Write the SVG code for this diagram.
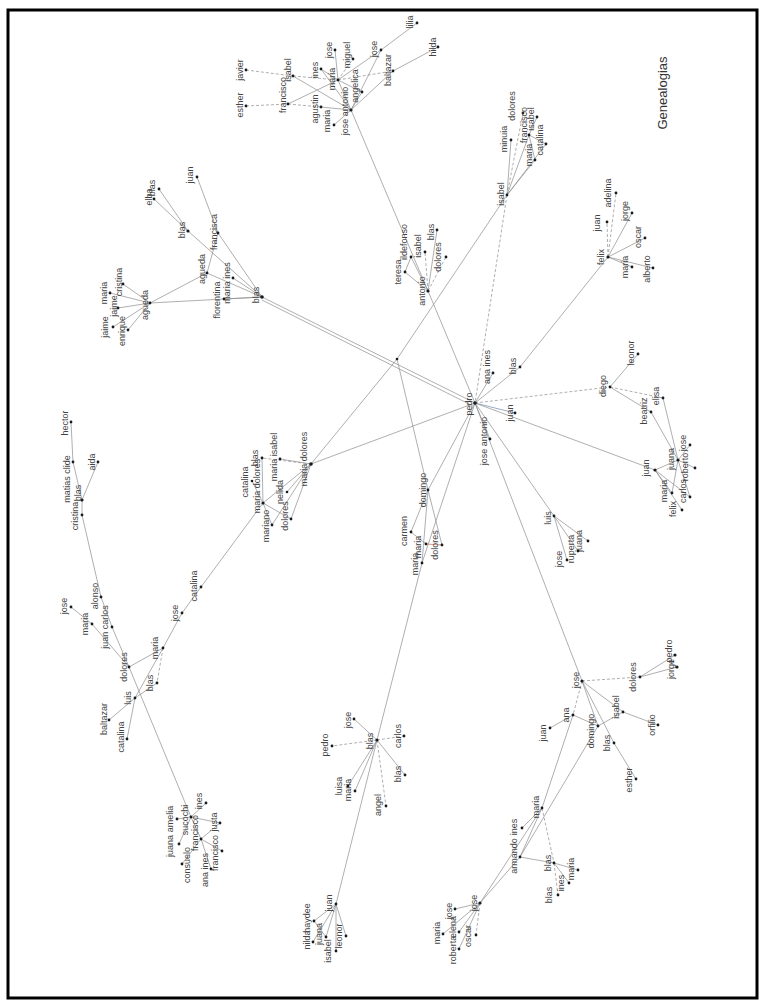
<svg xmlns="http://www.w3.org/2000/svg" width="765" height="1001" viewBox="0 0 765 1001">
<style>
.e{stroke:#8c8c8c;stroke-width:0.7;fill:none}
.d{stroke-dasharray:3 2}
.b{stroke:#6f86b0}
.r{stroke:#c07060}
circle{fill:#1a1a1a}
text{font-family:"Liberation Sans",Arial,sans-serif;font-size:9px;fill:#444;text-anchor:middle}
.title{font-size:13px;fill:#333}
</style>
<rect x="0" y="0" width="765" height="1001" fill="#fff"/>
<rect x="8" y="10" width="749" height="988" fill="none" stroke="#000" stroke-width="3"/>
<g id="connectors">
<line class="e d" x1="246" y1="70" x2="293" y2="76"/>
<line class="e d" x1="246" y1="106" x2="288" y2="104"/>
<line class="e" x1="293" y1="76" x2="351" y2="110"/>
<line class="e d" x1="293" y1="76" x2="338" y2="80"/>
<line class="e" x1="288" y1="104" x2="338" y2="80"/>
<line class="e d" x1="288" y1="104" x2="321" y2="107"/>
<line class="e" x1="321" y1="107" x2="351" y2="110"/>
<line class="e" x1="338" y1="80" x2="381" y2="50"/>
<line class="e" x1="338" y1="80" x2="351" y2="110"/>
<line class="e d" x1="338" y1="80" x2="353" y2="59"/>
<line class="e" x1="338" y1="80" x2="335" y2="50"/>
<line class="e" x1="338" y1="80" x2="321" y2="69"/>
<line class="e" x1="338" y1="80" x2="362" y2="92"/>
<line class="e d" x1="338" y1="80" x2="393" y2="71"/>
<line class="e" x1="351" y1="110" x2="393" y2="71"/>
<line class="e" x1="351" y1="110" x2="381" y2="50"/>
<line class="e" x1="351" y1="110" x2="362" y2="92"/>
<line class="e" x1="351" y1="110" x2="334" y2="125"/>
<line class="e" x1="351" y1="110" x2="321" y2="69"/>
<line class="e" x1="381" y1="50" x2="417" y2="23"/>
<line class="e" x1="393" y1="71" x2="438" y2="47"/>
<line class="e" x1="351" y1="110" x2="428" y2="291"/>
<line class="e" x1="428" y1="291" x2="405" y2="272"/>
<line class="e" x1="428" y1="291" x2="411" y2="257"/>
<line class="e d" x1="428" y1="291" x2="425" y2="252"/>
<line class="e" x1="428" y1="291" x2="437" y2="230"/>
<line class="e d" x1="428" y1="291" x2="446" y2="257"/>
<line class="e" x1="405" y1="272" x2="411" y2="257"/>
<line class="e" x1="428" y1="291" x2="475" y2="403"/>
<line class="e" x1="507" y1="195" x2="397" y2="359"/>
<line class="e" x1="397" y1="359" x2="311" y2="464"/>
<line class="e" x1="397" y1="359" x2="428" y2="490"/>
<line class="e" x1="507" y1="195" x2="511" y2="140"/>
<line class="e d" x1="507" y1="195" x2="523" y2="113"/>
<line class="e" x1="507" y1="195" x2="529" y2="135"/>
<line class="e" x1="507" y1="195" x2="535" y2="160"/>
<line class="e" x1="507" y1="195" x2="546" y2="144"/>
<line class="e" x1="529" y1="135" x2="537" y2="117"/>
<line class="e" x1="529" y1="135" x2="546" y2="144"/>
<line class="e" x1="529" y1="135" x2="535" y2="160"/>
<line class="e d" x1="507" y1="195" x2="475" y2="403"/>
<line class="e d" x1="608" y1="257" x2="607" y2="222"/>
<line class="e d" x1="608" y1="257" x2="616" y2="193"/>
<line class="e" x1="608" y1="257" x2="632" y2="213"/>
<line class="e" x1="608" y1="257" x2="645" y2="238"/>
<line class="e" x1="608" y1="257" x2="632" y2="267"/>
<line class="e" x1="608" y1="257" x2="653" y2="268"/>
<line class="e" x1="608" y1="257" x2="520" y2="367"/>
<line class="e" x1="475" y1="403" x2="520" y2="367"/>
<line class="e" x1="475" y1="403" x2="493" y2="373"/>
<line class="e b" x1="475" y1="403" x2="515" y2="413"/>
<line class="e" x1="475" y1="403" x2="490" y2="439"/>
<line class="e d" x1="475" y1="403" x2="610" y2="387"/>
<line class="e" x1="475" y1="403" x2="655" y2="470"/>
<line class="e" x1="475" y1="403" x2="554" y2="516"/>
<line class="e" x1="475" y1="403" x2="582" y2="681"/>
<line class="e" x1="475" y1="403" x2="428" y2="490"/>
<line class="e" x1="475" y1="403" x2="422" y2="563"/>
<line class="e" x1="475" y1="403" x2="311" y2="464"/>
<line class="e" x1="475" y1="403" x2="262" y2="297"/>
<line class="e" x1="473" y1="406" x2="262" y2="300"/>
<line class="e" x1="610" y1="387" x2="638" y2="354"/>
<line class="e" x1="610" y1="387" x2="651" y2="412"/>
<line class="e d" x1="610" y1="387" x2="663" y2="398"/>
<line class="e" x1="651" y1="412" x2="678" y2="460"/>
<line class="e" x1="663" y1="398" x2="678" y2="460"/>
<line class="e" x1="655" y1="470" x2="678" y2="460"/>
<line class="e" x1="655" y1="470" x2="672" y2="493"/>
<line class="e" x1="655" y1="470" x2="682" y2="510"/>
<line class="e" x1="655" y1="470" x2="690" y2="497"/>
<line class="e" x1="678" y1="460" x2="690" y2="445"/>
<line class="e" x1="678" y1="460" x2="695" y2="468"/>
<line class="e" x1="678" y1="460" x2="690" y2="497"/>
<line class="e" x1="678" y1="460" x2="672" y2="493"/>
<line class="e" x1="554" y1="516" x2="567" y2="560"/>
<line class="e" x1="554" y1="516" x2="578" y2="551"/>
<line class="e" x1="554" y1="516" x2="588" y2="541"/>
<line class="e d" x1="582" y1="681" x2="640" y2="677"/>
<line class="e" x1="640" y1="677" x2="677" y2="667"/>
<line class="e" x1="640" y1="677" x2="675" y2="655"/>
<line class="e" x1="582" y1="681" x2="623" y2="712"/>
<line class="e" x1="582" y1="681" x2="598" y2="726"/>
<line class="e d" x1="582" y1="681" x2="573" y2="715"/>
<line class="e" x1="582" y1="681" x2="614" y2="743"/>
<line class="e" x1="598" y1="726" x2="573" y2="715"/>
<line class="e" x1="598" y1="726" x2="623" y2="712"/>
<line class="e" x1="623" y1="712" x2="658" y2="725"/>
<line class="e" x1="614" y1="743" x2="636" y2="779"/>
<line class="e" x1="573" y1="715" x2="550" y2="728"/>
<line class="e" x1="573" y1="715" x2="542" y2="808"/>
<line class="e" x1="520" y1="857" x2="598" y2="726"/>
<line class="e" x1="542" y1="808" x2="520" y2="857"/>
<line class="e" x1="542" y1="808" x2="522" y2="828"/>
<line class="e d" x1="542" y1="808" x2="554" y2="863"/>
<line class="e" x1="520" y1="857" x2="554" y2="863"/>
<line class="e" x1="554" y1="863" x2="578" y2="870"/>
<line class="e" x1="554" y1="863" x2="569" y2="883"/>
<line class="e d" x1="554" y1="863" x2="558" y2="895"/>
<line class="e" x1="480" y1="903" x2="542" y2="808"/>
<line class="e" x1="480" y1="903" x2="520" y2="857"/>
<line class="e" x1="480" y1="903" x2="455" y2="909"/>
<line class="e" x1="480" y1="903" x2="443" y2="934"/>
<line class="e" x1="480" y1="903" x2="459" y2="949"/>
<line class="e" x1="480" y1="903" x2="459" y2="932"/>
<line class="e d" x1="480" y1="903" x2="476" y2="935"/>
<line class="e" x1="336" y1="904" x2="314" y2="921"/>
<line class="e" x1="336" y1="904" x2="313" y2="942"/>
<line class="e" x1="336" y1="904" x2="326" y2="937"/>
<line class="e" x1="336" y1="904" x2="336" y2="951"/>
<line class="e" x1="336" y1="904" x2="346" y2="936"/>
<line class="e" x1="314" y1="921" x2="326" y2="937"/>
<line class="e" x1="336" y1="904" x2="377" y2="740"/>
<line class="e" x1="377" y1="740" x2="354" y2="719"/>
<line class="e d" x1="377" y1="740" x2="332" y2="746"/>
<line class="e d" x1="377" y1="740" x2="404" y2="736"/>
<line class="e" x1="377" y1="740" x2="348" y2="786"/>
<line class="e" x1="377" y1="740" x2="355" y2="791"/>
<line class="e d" x1="377" y1="740" x2="386" y2="806"/>
<line class="e" x1="377" y1="740" x2="405" y2="775"/>
<line class="e" x1="377" y1="740" x2="422" y2="563"/>
<line class="e" x1="428" y1="490" x2="411" y2="532"/>
<line class="e" x1="428" y1="490" x2="422" y2="563"/>
<line class="e" x1="428" y1="490" x2="442" y2="545"/>
<line class="e" x1="411" y1="532" x2="426" y2="544"/>
<line class="e r" x1="426" y1="544" x2="442" y2="545"/>
<line class="e" x1="311" y1="464" x2="280" y2="459"/>
<line class="e d" x1="311" y1="464" x2="262" y2="458"/>
<line class="e" x1="311" y1="464" x2="263" y2="503"/>
<line class="e" x1="311" y1="464" x2="287" y2="492"/>
<line class="e" x1="311" y1="464" x2="291" y2="519"/>
<line class="e" x1="311" y1="464" x2="272" y2="525"/>
<line class="e" x1="263" y1="503" x2="272" y2="525"/>
<line class="e" x1="263" y1="503" x2="291" y2="519"/>
<line class="e" x1="263" y1="503" x2="252" y2="481"/>
<line class="e" x1="263" y1="503" x2="201" y2="587"/>
<line class="e" x1="263" y1="503" x2="262" y2="458"/>
<line class="e" x1="201" y1="587" x2="182" y2="613"/>
<line class="e" x1="182" y1="613" x2="163" y2="648"/>
<line class="e" x1="163" y1="648" x2="129" y2="667"/>
<line class="e d" x1="163" y1="648" x2="157" y2="683"/>
<line class="e" x1="163" y1="648" x2="135" y2="698"/>
<line class="e" x1="135" y1="698" x2="157" y2="683"/>
<line class="e" x1="135" y1="698" x2="109" y2="720"/>
<line class="e" x1="135" y1="698" x2="127" y2="739"/>
<line class="e" x1="129" y1="667" x2="112" y2="627"/>
<line class="e" x1="112" y1="627" x2="101" y2="597"/>
<line class="e" x1="129" y1="667" x2="92" y2="624"/>
<line class="e" x1="92" y1="624" x2="71" y2="607"/>
<line class="e" x1="101" y1="597" x2="82" y2="515"/>
<line class="e" x1="129" y1="667" x2="191" y2="817"/>
<line class="e" x1="71" y1="422" x2="73" y2="462"/>
<line class="e" x1="73" y1="462" x2="82" y2="500"/>
<line class="e" x1="98" y1="462" x2="82" y2="500"/>
<line class="e" x1="82" y1="500" x2="82" y2="515"/>
<line class="e" x1="191" y1="817" x2="177" y2="819"/>
<line class="e" x1="191" y1="817" x2="179" y2="844"/>
<line class="e" x1="191" y1="817" x2="206" y2="803"/>
<line class="e" x1="191" y1="817" x2="201" y2="839"/>
<line class="e" x1="191" y1="817" x2="220" y2="823"/>
<line class="e" x1="201" y1="839" x2="182" y2="864"/>
<line class="e" x1="201" y1="839" x2="211" y2="869"/>
<line class="e" x1="201" y1="839" x2="222" y2="851"/>
<line class="e" x1="201" y1="839" x2="220" y2="823"/>
<line class="e" x1="262" y1="297" x2="224" y2="299"/>
<line class="e" x1="262" y1="297" x2="233" y2="278"/>
<line class="e" x1="262" y1="297" x2="207" y2="273"/>
<line class="e" x1="262" y1="297" x2="218" y2="233"/>
<line class="e" x1="262" y1="297" x2="188" y2="231"/>
<line class="e" x1="262" y1="297" x2="150" y2="303"/>
<line class="e" x1="207" y1="273" x2="150" y2="303"/>
<line class="e" x1="207" y1="273" x2="218" y2="233"/>
<line class="e" x1="188" y1="231" x2="154" y2="199"/>
<line class="e" x1="188" y1="231" x2="159" y2="189"/>
<line class="e" x1="218" y1="233" x2="197" y2="177"/>
<line class="e" x1="150" y1="303" x2="123" y2="284"/>
<line class="e" x1="150" y1="303" x2="110" y2="293"/>
<line class="e" x1="150" y1="303" x2="118" y2="308"/>
<line class="e" x1="150" y1="303" x2="113" y2="327"/>
<line class="e" x1="150" y1="303" x2="128" y2="330"/>
</g>
<g id="title"><text class="title" x="667" y="93" transform="rotate(-90 667 93)">Genealogias</text></g>
<g id="a_javier"><circle cx="246" cy="70" r="1.4"/><text x="243" y="70" transform="rotate(-90 243 70)">javier</text></g>
<g id="a_esther"><circle cx="246" cy="106" r="1.4"/><text x="243" y="105" transform="rotate(-90 243 105)">esther</text></g>
<g id="a_lilia"><circle cx="417" cy="23" r="1.4"/><text x="413" y="22" transform="rotate(-90 413 22)">lilia</text></g>
<g id="a_hilda"><circle cx="438" cy="47" r="1.4"/><text x="436" y="47" transform="rotate(-90 436 47)">hilda</text></g>
<g id="a_jose1"><circle cx="381" cy="50" r="1.4"/><text x="377" y="49" transform="rotate(-90 377 49)">jose</text></g>
<g id="a_baltazar"><circle cx="393" cy="71" r="1.4"/><text x="391" y="70" transform="rotate(-90 391 70)">baltazar</text></g>
<g id="a_miguel"><circle cx="353" cy="59" r="1.4"/><text x="350" y="55" transform="rotate(-90 350 55)">miguel</text></g>
<g id="a_jose2"><circle cx="335" cy="50" r="1.4"/><text x="332" y="50" transform="rotate(-90 332 50)">jose</text></g>
<g id="a_ines"><circle cx="321" cy="69" r="1.4"/><text x="318" y="70" transform="rotate(-90 318 70)">ines</text></g>
<g id="a_isabel"><circle cx="293" cy="76" r="1.4"/><text x="291" y="70" transform="rotate(-90 291 70)">isabel</text></g>
<g id="a_francisco"><circle cx="288" cy="104" r="1.4"/><text x="286" y="95" transform="rotate(-90 286 95)">francisco</text></g>
<g id="a_maria1"><circle cx="338" cy="80" r="1.4"/><text x="335" y="79" transform="rotate(-90 335 79)">maria</text></g>
<g id="a_angelica"><circle cx="362" cy="92" r="1.4"/><text x="358" y="86" transform="rotate(-90 358 86)">angelica</text></g>
<g id="a_agustin"><circle cx="321" cy="107" r="1.4"/><text x="318" y="109" transform="rotate(-90 318 109)">agustin</text></g>
<g id="a_joseantonio"><circle cx="351" cy="110" r="1.6"/><text x="348" y="111" transform="rotate(-90 348 111)">jose antonio</text></g>
<g id="a_maria2"><circle cx="334" cy="125" r="1.4"/><text x="330" y="121" transform="rotate(-90 330 121)">maria</text></g>
<g id="b_ildefonso"><circle cx="411" cy="257" r="1.4"/><text x="407" y="242" transform="rotate(-90 407 242)">ildefonso</text></g>
<g id="b_blas"><circle cx="437" cy="230" r="1.4"/><text x="434" y="232" transform="rotate(-90 434 232)">blas</text></g>
<g id="b_isabel"><circle cx="425" cy="252" r="1.4"/><text x="421" y="246" transform="rotate(-90 421 246)">isabel</text></g>
<g id="b_dolores"><circle cx="446" cy="257" r="1.4"/><text x="441" y="257" transform="rotate(-90 441 257)">dolores</text></g>
<g id="b_teresa"><circle cx="405" cy="272" r="1.4"/><text x="401" y="272" transform="rotate(-90 401 272)">teresa</text></g>
<g id="b_antonio"><circle cx="428" cy="291" r="1.6"/><text x="425" y="291" transform="rotate(-90 425 291)">antonio</text></g>
<g id="junction"><circle cx="397" cy="359" r="1.3"/></g>
<g id="c_isabel"><circle cx="507" cy="195" r="1.4"/><text x="504" y="194" transform="rotate(-90 504 194)">isabel</text></g>
<g id="c_minuia"><circle cx="511" cy="140" r="1.4"/><text x="507" y="139" transform="rotate(-90 507 139)">minuia</text></g>
<g id="c_dolores"><circle cx="523" cy="113" r="1.4"/><text x="515" y="106" transform="rotate(-90 515 106)">dolores</text></g>
<g id="c_francisco"><circle cx="529" cy="135" r="1.4"/><text x="527" y="125" transform="rotate(-90 527 125)">francisco</text></g>
<g id="c_isabel2"><circle cx="537" cy="117" r="1.4"/><text x="534" y="119" transform="rotate(-90 534 119)">isabel</text></g>
<g id="c_maria"><circle cx="535" cy="160" r="1.4"/><text x="532" y="155" transform="rotate(-90 532 155)">maria</text></g>
<g id="c_catalina"><circle cx="546" cy="144" r="1.4"/><text x="543" y="140" transform="rotate(-90 543 140)">catalina</text></g>
<g id="d_felix"><circle cx="608" cy="257" r="1.6"/><text x="604" y="257" transform="rotate(-90 604 257)">felix</text></g>
<g id="d_juan"><circle cx="607" cy="222" r="1.4"/><text x="600" y="223" transform="rotate(-90 600 223)">juan</text></g>
<g id="d_adelina"><circle cx="616" cy="193" r="1.4"/><text x="611" y="193" transform="rotate(-90 611 193)">adelina</text></g>
<g id="d_jorge"><circle cx="632" cy="213" r="1.4"/><text x="628" y="211" transform="rotate(-90 628 211)">jorge</text></g>
<g id="d_oscar"><circle cx="645" cy="238" r="1.4"/><text x="641" y="237" transform="rotate(-90 641 237)">oscar</text></g>
<g id="d_maria"><circle cx="632" cy="267" r="1.4"/><text x="628" y="267" transform="rotate(-90 628 267)">maria</text></g>
<g id="d_alberto"><circle cx="653" cy="268" r="1.4"/><text x="650" y="269" transform="rotate(-90 650 269)">alberto</text></g>
<g id="r_blas"><circle cx="520" cy="367" r="1.4"/><text x="516" y="366" transform="rotate(-90 516 366)">blas</text></g>
<g id="r_anaines"><circle cx="493" cy="373" r="1.4"/><text x="490" y="367" transform="rotate(-90 490 367)">ana ines</text></g>
<g id="r_pedro"><circle cx="475" cy="403" r="1.8"/><text x="472" y="404" transform="rotate(-90 472 404)">pedro</text></g>
<g id="r_juan"><circle cx="515" cy="413" r="1.4"/><text x="513" y="413" transform="rotate(-90 513 413)">juan</text></g>
<g id="r_joseantonio"><circle cx="490" cy="439" r="1.4"/><text x="487" y="441" transform="rotate(-90 487 441)">jose antonio</text></g>
<g id="e_diego"><circle cx="610" cy="387" r="1.4"/><text x="606" y="386" transform="rotate(-90 606 386)">diego</text></g>
<g id="e_leonor"><circle cx="638" cy="354" r="1.4"/><text x="634" y="353" transform="rotate(-90 634 353)">leonor</text></g>
<g id="e_beatriz"><circle cx="651" cy="412" r="1.4"/><text x="647" y="411" transform="rotate(-90 647 411)">beatriz</text></g>
<g id="e_elisa"><circle cx="663" cy="398" r="1.4"/><text x="659" y="396" transform="rotate(-90 659 396)">elisa</text></g>
<g id="f_juan"><circle cx="655" cy="470" r="1.6"/><text x="649" y="468" transform="rotate(-90 649 468)">juan</text></g>
<g id="f_juana"><circle cx="678" cy="460" r="1.6"/><text x="674" y="459" transform="rotate(-90 674 459)">juana</text></g>
<g id="f_jose"><circle cx="690" cy="445" r="1.4"/><text x="686" y="443" transform="rotate(-90 686 443)">jose</text></g>
<g id="f_roberto"><circle cx="695" cy="468" r="1.4"/><text x="688" y="467" transform="rotate(-90 688 467)">roberto</text></g>
<g id="f_carlos"><circle cx="690" cy="497" r="1.4"/><text x="686" y="491" transform="rotate(-90 686 491)">carlos</text></g>
<g id="f_maria"><circle cx="672" cy="493" r="1.4"/><text x="667" y="491" transform="rotate(-90 667 491)">maria</text></g>
<g id="f_felix"><circle cx="682" cy="510" r="1.4"/><text x="676" y="509" transform="rotate(-90 676 509)">felix</text></g>
<g id="g_luis"><circle cx="554" cy="516" r="1.4"/><text x="551" y="518" transform="rotate(-90 551 518)">luis</text></g>
<g id="g_juana"><circle cx="588" cy="541" r="1.4"/><text x="582" y="541" transform="rotate(-90 582 541)">juana</text></g>
<g id="g_ruperta"><circle cx="578" cy="551" r="1.4"/><text x="574" y="549" transform="rotate(-90 574 549)">ruperta</text></g>
<g id="g_jose"><circle cx="567" cy="560" r="1.4"/><text x="562" y="559" transform="rotate(-90 562 559)">jose</text></g>
<g id="h_jose"><circle cx="582" cy="681" r="1.6"/><text x="579" y="680" transform="rotate(-90 579 680)">jose</text></g>
<g id="h_dolores"><circle cx="640" cy="677" r="1.4"/><text x="636" y="677" transform="rotate(-90 636 677)">dolores</text></g>
<g id="h_jorge"><circle cx="677" cy="667" r="1.6"/><text x="674" y="669" transform="rotate(-90 674 669)">jorge</text></g>
<g id="h_pedro"><circle cx="675" cy="655" r="1.6"/><text x="672" y="651" transform="rotate(-90 672 651)">pedro</text></g>
<g id="h_isabel"><circle cx="623" cy="712" r="1.4"/><text x="619" y="707" transform="rotate(-90 619 707)">isabel</text></g>
<g id="h_ana"><circle cx="573" cy="715" r="1.4"/><text x="569" y="715" transform="rotate(-90 569 715)">ana</text></g>
<g id="h_juan"><circle cx="550" cy="728" r="1.4"/><text x="546" y="733" transform="rotate(-90 546 733)">juan</text></g>
<g id="h_domingo"><circle cx="598" cy="726" r="1.4"/><text x="594" y="731" transform="rotate(-90 594 731)">domingo</text></g>
<g id="h_orfilio"><circle cx="658" cy="725" r="1.4"/><text x="655" y="725" transform="rotate(-90 655 725)">orfilio</text></g>
<g id="h_blas"><circle cx="614" cy="743" r="1.4"/><text x="610" y="743" transform="rotate(-90 610 743)">blas</text></g>
<g id="h_esther"><circle cx="636" cy="779" r="1.4"/><text x="632" y="780" transform="rotate(-90 632 780)">esther</text></g>
<g id="h_maria"><circle cx="542" cy="808" r="1.4"/><text x="539" y="807" transform="rotate(-90 539 807)">maria</text></g>
<g id="h_ines"><circle cx="522" cy="828" r="1.4"/><text x="517" y="827" transform="rotate(-90 517 827)">ines</text></g>
<g id="h_armando"><circle cx="520" cy="857" r="1.4"/><text x="517" y="856" transform="rotate(-90 517 856)">armando</text></g>
<g id="h_blas2"><circle cx="554" cy="863" r="1.4"/><text x="551" y="863" transform="rotate(-90 551 863)">blas</text></g>
<g id="h_ines2"><circle cx="569" cy="883" r="1.4"/><text x="564" y="883" transform="rotate(-90 564 883)">ines</text></g>
<g id="h_maria2"><circle cx="578" cy="870" r="1.4"/><text x="574" y="869" transform="rotate(-90 574 869)">maria</text></g>
<g id="h_blas3"><circle cx="558" cy="895" r="1.4"/><text x="552" y="895" transform="rotate(-90 552 895)">blas</text></g>
<g id="i_jose"><circle cx="480" cy="903" r="1.6"/><text x="477" y="903" transform="rotate(-90 477 903)">jose</text></g>
<g id="i_jose2"><circle cx="455" cy="909" r="1.4"/><text x="452" y="911" transform="rotate(-90 452 911)">jose</text></g>
<g id="i_maria"><circle cx="443" cy="934" r="1.4"/><text x="440" y="933" transform="rotate(-90 440 933)">maria</text></g>
<g id="i_roberta"><circle cx="459" cy="949" r="1.4"/><text x="456" y="950" transform="rotate(-90 456 950)">roberta</text></g>
<g id="i_elena"><circle cx="459" cy="932" r="1.4"/><text x="456" y="927" transform="rotate(-90 456 927)">elena</text></g>
<g id="i_oscar"><circle cx="476" cy="935" r="1.4"/><text x="471" y="936" transform="rotate(-90 471 936)">oscar</text></g>
<g id="j_juan"><circle cx="336" cy="904" r="1.4"/><text x="332" y="903" transform="rotate(-90 332 903)">juan</text></g>
<g id="j_haydee"><circle cx="314" cy="921" r="1.4"/><text x="310" y="918" transform="rotate(-90 310 918)">haydee</text></g>
<g id="j_nilda"><circle cx="313" cy="942" r="1.4"/><text x="310" y="940" transform="rotate(-90 310 940)">nilda</text></g>
<g id="j_juana"><circle cx="326" cy="937" r="1.4"/><text x="322" y="934" transform="rotate(-90 322 934)">juana</text></g>
<g id="j_isabel"><circle cx="336" cy="951" r="1.4"/><text x="331" y="951" transform="rotate(-90 331 951)">isabel</text></g>
<g id="j_leonor"><circle cx="346" cy="936" r="1.4"/><text x="342" y="936" transform="rotate(-90 342 936)">leonor</text></g>
<g id="k_blas"><circle cx="377" cy="740" r="1.6"/><text x="373" y="741" transform="rotate(-90 373 741)">blas</text></g>
<g id="k_jose"><circle cx="354" cy="719" r="1.4"/><text x="351" y="720" transform="rotate(-90 351 720)">jose</text></g>
<g id="k_pedro"><circle cx="332" cy="746" r="1.4"/><text x="328" y="745" transform="rotate(-90 328 745)">pedro</text></g>
<g id="k_carlos"><circle cx="404" cy="736" r="1.4"/><text x="401" y="736" transform="rotate(-90 401 736)">carlos</text></g>
<g id="k_luisa"><circle cx="348" cy="786" r="1.4"/><text x="342" y="786" transform="rotate(-90 342 786)">luisa</text></g>
<g id="k_maria"><circle cx="355" cy="791" r="1.4"/><text x="351" y="790" transform="rotate(-90 351 790)">maria</text></g>
<g id="k_angel"><circle cx="386" cy="806" r="1.4"/><text x="381" y="805" transform="rotate(-90 381 805)">angel</text></g>
<g id="k_blas2"><circle cx="405" cy="775" r="1.4"/><text x="401" y="774" transform="rotate(-90 401 774)">blas</text></g>
<g id="l_domingo"><circle cx="428" cy="490" r="1.4"/><text x="426" y="490" transform="rotate(-90 426 490)">domingo</text></g>
<g id="l_carmen"><circle cx="411" cy="532" r="1.4"/><text x="407" y="531" transform="rotate(-90 407 531)">carmen</text></g>
<g id="l_maria1"><circle cx="422" cy="563" r="1.4"/><text x="418" y="564" transform="rotate(-90 418 564)">maria</text></g>
<g id="l_maria2"><circle cx="426" cy="544" r="1.4"/><text x="421" y="547" transform="rotate(-90 421 547)">maria</text></g>
<g id="l_dolores"><circle cx="442" cy="545" r="1.4"/><text x="438" y="545" transform="rotate(-90 438 545)">dolores</text></g>
<g id="m_catalina"><circle cx="252" cy="481" r="1.3"/><text x="248" y="482" transform="rotate(-90 248 482)">catalina</text></g>
<g id="m_blas"><circle cx="262" cy="458" r="1.4"/><text x="258" y="458" transform="rotate(-90 258 458)">blas</text></g>
<g id="m_mariaisabel"><circle cx="280" cy="459" r="1.4"/><text x="277" y="457" transform="rotate(-90 277 457)">maria isabel</text></g>
<g id="m_mariadolores1"><circle cx="311" cy="464" r="1.8"/><text x="307" y="459" transform="rotate(-90 307 459)">maria dolores</text></g>
<g id="m_nelida"><circle cx="287" cy="492" r="1.3"/><text x="283" y="492" transform="rotate(-90 283 492)">nelida</text></g>
<g id="m_mariadolores2"><circle cx="263" cy="503" r="1.6"/><text x="260" y="486" transform="rotate(-90 260 486)">maria dolores</text></g>
<g id="m_mariano"><circle cx="272" cy="525" r="1.4"/><text x="269" y="526" transform="rotate(-90 269 526)">mariano</text></g>
<g id="m_dolores"><circle cx="291" cy="519" r="1.4"/><text x="288" y="516" transform="rotate(-90 288 516)">dolores</text></g>
<g id="n_catalina"><circle cx="201" cy="587" r="1.4"/><text x="197" y="586" transform="rotate(-90 197 586)">catalina</text></g>
<g id="n_jose"><circle cx="182" cy="613" r="1.4"/><text x="178" y="613" transform="rotate(-90 178 613)">jose</text></g>
<g id="n_maria"><circle cx="163" cy="648" r="1.4"/><text x="158" y="648" transform="rotate(-90 158 648)">maria</text></g>
<g id="n_blas"><circle cx="157" cy="683" r="1.4"/><text x="153" y="683" transform="rotate(-90 153 683)">blas</text></g>
<g id="n_dolores"><circle cx="129" cy="667" r="1.4"/><text x="127" y="667" transform="rotate(-90 127 667)">dolores</text></g>
<g id="n_luis"><circle cx="135" cy="698" r="1.4"/><text x="131" y="698" transform="rotate(-90 131 698)">luis</text></g>
<g id="n_baltazar"><circle cx="109" cy="720" r="1.4"/><text x="107" y="719" transform="rotate(-90 107 719)">baltazar</text></g>
<g id="n_catalina2"><circle cx="127" cy="739" r="1.4"/><text x="124" y="737" transform="rotate(-90 124 737)">catalina</text></g>
<g id="n_juancarlos"><circle cx="112" cy="627" r="1.4"/><text x="108" y="627" transform="rotate(-90 108 627)">juan carlos</text></g>
<g id="n_alonso"><circle cx="101" cy="597" r="1.4"/><text x="98" y="596" transform="rotate(-90 98 596)">alonso</text></g>
<g id="n_maria2"><circle cx="92" cy="624" r="1.4"/><text x="88" y="624" transform="rotate(-90 88 624)">maria</text></g>
<g id="n_jose2"><circle cx="71" cy="607" r="1.4"/><text x="67" y="606" transform="rotate(-90 67 606)">jose</text></g>
<g id="n_cristina"><circle cx="82" cy="515" r="1.4"/><text x="78" y="516" transform="rotate(-90 78 516)">cristina</text></g>
<g id="n_blas2"><circle cx="82" cy="500" r="1.6"/><text x="81" y="493" transform="rotate(-90 81 493)">blas</text></g>
<g id="n_matiasclide"><circle cx="73" cy="462" r="1.4"/><text x="70" y="479" transform="rotate(-90 70 479)">matias clide</text></g>
<g id="n_hector"><circle cx="71" cy="422" r="1.4"/><text x="68" y="423" transform="rotate(-90 68 423)">hector</text></g>
<g id="n_aida"><circle cx="98" cy="462" r="1.4"/><text x="95" y="462" transform="rotate(-90 95 462)">aida</text></g>
<g id="o_juana"><circle cx="179" cy="844" r="1.4"/><text x="173" y="846" transform="rotate(-90 173 846)">juana</text></g>
<g id="o_amelia"><circle cx="177" cy="819" r="1.4"/><text x="173" y="819" transform="rotate(-90 173 819)">amelia</text></g>
<g id="o_sucochi"><circle cx="191" cy="817" r="1.4"/><text x="188" y="820" transform="rotate(-90 188 820)">sucochi</text></g>
<g id="o_ines"><circle cx="206" cy="803" r="1.4"/><text x="202" y="801" transform="rotate(-90 202 801)">ines</text></g>
<g id="o_francisco"><circle cx="201" cy="839" r="1.4"/><text x="198" y="833" transform="rotate(-90 198 833)">francisco</text></g>
<g id="o_consuelo"><circle cx="182" cy="864" r="1.4"/><text x="190" y="865" transform="rotate(-90 190 865)">consuelo</text></g>
<g id="o_anaines"><circle cx="211" cy="869" r="1.4"/><text x="208" y="870" transform="rotate(-90 208 870)">ana ines</text></g>
<g id="o_justa"><circle cx="220" cy="823" r="1.4"/><text x="217" y="822" transform="rotate(-90 217 822)">justa</text></g>
<g id="o_francisco2"><circle cx="222" cy="851" r="1.4"/><text x="218" y="853" transform="rotate(-90 218 853)">francisco</text></g>
<g id="p_juan"><circle cx="197" cy="177" r="1.4"/><text x="193" y="175" transform="rotate(-90 193 175)">juan</text></g>
<g id="p_elba"><circle cx="154" cy="199" r="1.4"/><text x="152" y="197" transform="rotate(-90 152 197)">elba</text></g>
<g id="p_blas1"><circle cx="159" cy="189" r="1.4"/><text x="155" y="188" transform="rotate(-90 155 188)">blas</text></g>
<g id="p_blas2"><circle cx="188" cy="231" r="1.6"/><text x="185" y="230" transform="rotate(-90 185 230)">blas</text></g>
<g id="p_francisca"><circle cx="218" cy="233" r="1.4"/><text x="217" y="232" transform="rotate(-90 217 232)">francisca</text></g>
<g id="p_agueda"><circle cx="207" cy="273" r="1.4"/><text x="205" y="269" transform="rotate(-90 205 269)">agueda</text></g>
<g id="p_florentina"><circle cx="224" cy="299" r="1.4"/><text x="220" y="300" transform="rotate(-90 220 300)">florentina</text></g>
<g id="p_mariaines"><circle cx="233" cy="278" r="1.4"/><text x="230" y="283" transform="rotate(-90 230 283)">maria ines</text></g>
<g id="p_blas3"><circle cx="262" cy="297" r="1.8"/><text x="259" y="295" transform="rotate(-90 259 295)">blas</text></g>
<g id="p_agueda2"><circle cx="150" cy="303" r="1.4"/><text x="148" y="305" transform="rotate(-90 148 305)">agueda</text></g>
<g id="p_cristina"><circle cx="123" cy="284" r="1.4"/><text x="122" y="282" transform="rotate(-90 122 282)">cristina</text></g>
<g id="p_maria"><circle cx="110" cy="293" r="1.4"/><text x="107" y="293" transform="rotate(-90 107 293)">maria</text></g>
<g id="p_jaime"><circle cx="118" cy="308" r="1.4"/><text x="117" y="306" transform="rotate(-90 117 306)">jaime</text></g>
<g id="p_jaime2"><circle cx="113" cy="327" r="1.4"/><text x="108" y="327" transform="rotate(-90 108 327)">jaime</text></g>
<g id="p_enrique"><circle cx="128" cy="330" r="1.4"/><text x="125" y="331" transform="rotate(-90 125 331)">enrique</text></g>
</svg>
